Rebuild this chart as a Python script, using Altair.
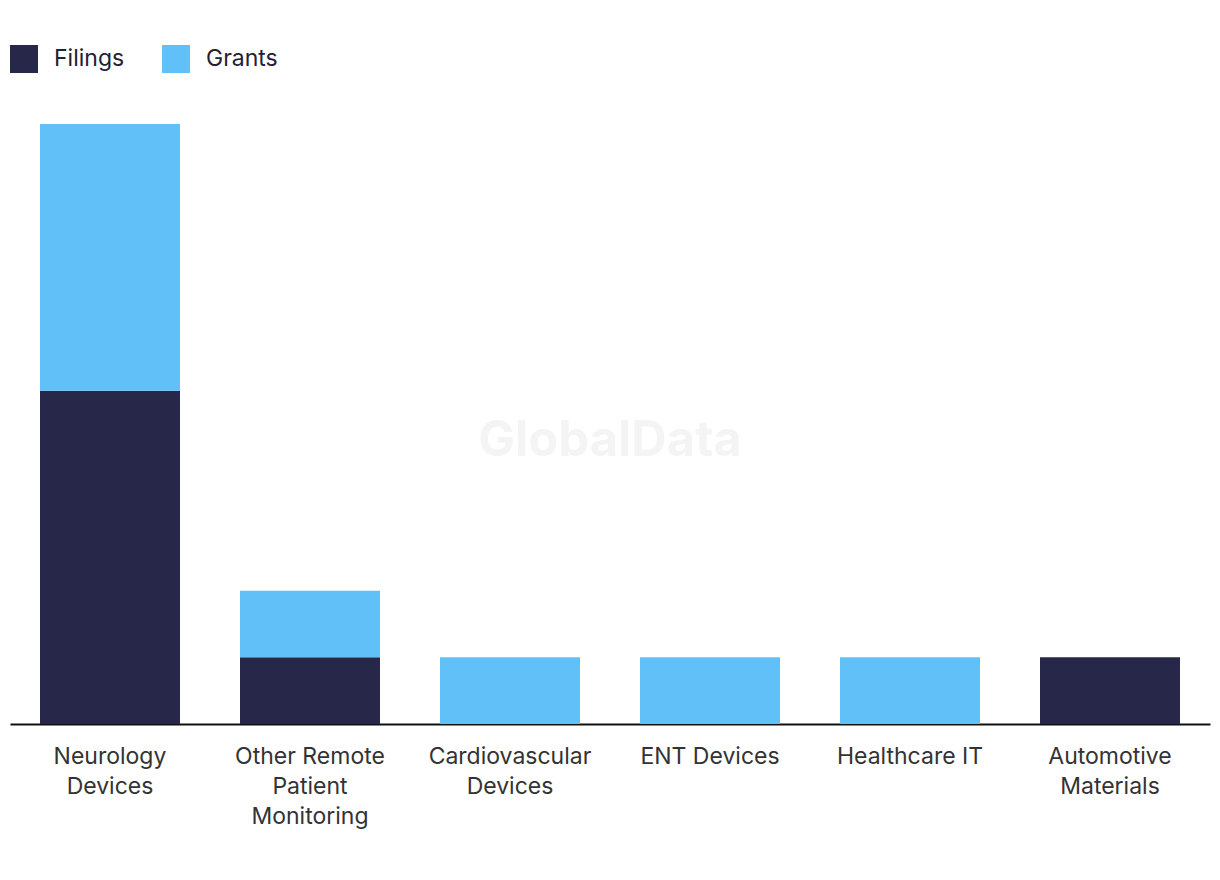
import altair as alt
import pandas as pd

categories = ["Neurology Devices", "Other Remote Patient Monitoring", "Cardiovascular Devices",
              "ENT Devices", "Healthcare IT", "Automotive Materials"]
label_lines = [["Neurology", "Devices"], ["Other Remote", "Patient", "Monitoring"],
               ["Cardiovascular", "Devices"], ["ENT Devices"], ["Healthcare IT"],
               ["Automotive", "Materials"]]
filings = [5, 1, 0, 0, 0, 1]
grants = [4, 1, 1, 1, 1, 0]
series = ["Filings", "Grants"]
colors = ["#27274a", "#62c0f8"]

rows = []
for c, f, g in zip(categories, filings, grants):
    rows.append({"category": c, "series": "Filings", "value": f, "order": 0})
    rows.append({"category": c, "series": "Grants", "value": g, "order": 1})
df = pd.DataFrame(rows)

label_map = "{" + ",".join(
    "'" + c + "': [" + ",".join("'" + l + "'" for l in ls) + "]"
    for c, ls in zip(categories, label_lines)) + "}"
label_expr = label_map + "[datum.value]"

FONT = "Inter"

bars = alt.Chart(df).mark_bar().encode(
    x=alt.X("category:N", sort=categories, title=None,
            scale=alt.Scale(paddingInner=0.3, paddingOuter=0.15),
            axis=alt.Axis(labelExpr=label_expr, labelAngle=0, labelFontSize=23,
                          labelColor="#333333", labelFont=FONT, labelLineHeight=30,
                          labelPadding=21, ticks=False, domainColor="#111111",
                          domainWidth=2, labelLimit=300)),
    y=alt.Y("sum(value):Q", title=None, stack="zero",
            scale=alt.Scale(domain=[0, 9]), axis=None),
    color=alt.Color("series:N", sort=series,
                    scale=alt.Scale(domain=series, range=colors),
                    legend=alt.Legend(title=None, orient="none", legendX=0, legendY=-79,
                                      direction="horizontal", symbolType="square",
                                      symbolSize=784, symbolStrokeWidth=0,
                                      labelFontSize=23, labelFont=FONT,
                                      labelColor="#222233", columnPadding=37,
                                      labelOffset=16, symbolOpacity=1)),
    order=alt.Order("order:Q"),
)

watermark = alt.Chart(pd.DataFrame({"t": ["GlobalData"]})).mark_text(
    fontSize=49, fontWeight="bold", font=FONT, color="#f4f4f4", align="center",
    baseline="middle").encode(
    x=alt.value(600), y=alt.value(317), text="t:N")

chart = alt.layer(watermark, bars).properties(
    width=1200, height=600,
    background="white",
    autosize=alt.AutoSizeParams(type="none"),
    padding={"left": 2, "top": 116, "right": 2, "bottom": 140},
).configure_view(strokeWidth=0, stroke=None)

chart.save("out.html", embed_options={"renderer": "svg", "actions": False})
